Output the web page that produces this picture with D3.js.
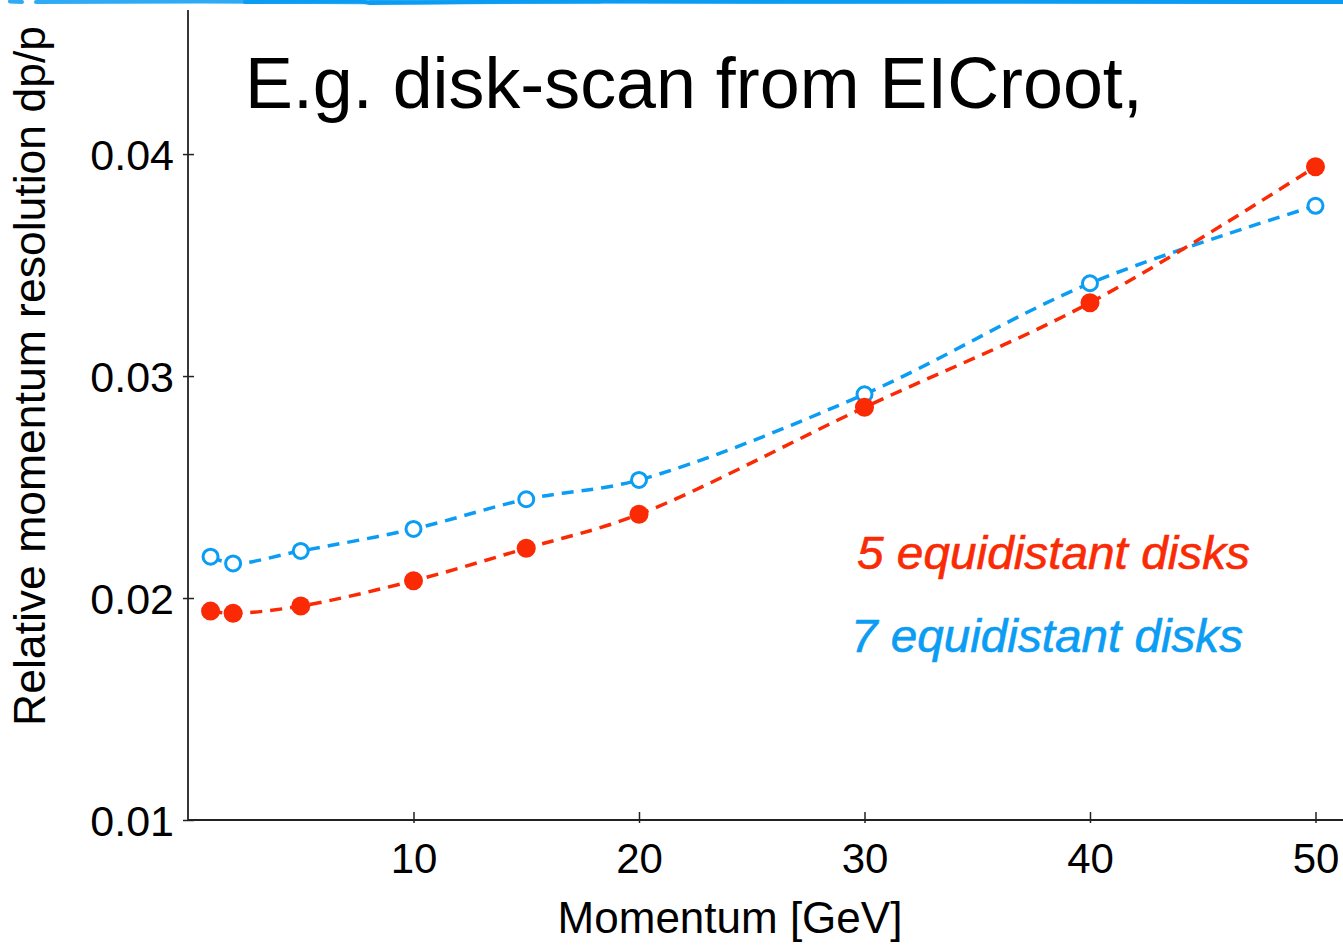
<!DOCTYPE html>
<html>
<head>
<meta charset="utf-8">
<script src="https://cdn.jsdelivr.net/npm/d3@7"></script>
<style>
  html, body { margin: 0; padding: 0; background: #fff; }
  svg { display: block; font-family: "Liberation Sans", Arial, Helvetica, sans-serif; }
</style>
</head>
<body>
<svg id="chart" width="1343" height="945"></svg>
<script>
// ---- data ----
const momentum = [1, 2, 5, 10, 15, 20, 30, 40, 50];
const res5disks = [0.01941, 0.01931, 0.01964, 0.02078, 0.02224, 0.02377, 0.02859, 0.03330, 0.03943];
const res7disks = [0.02186, 0.02156, 0.02212, 0.02311, 0.02445, 0.02532, 0.02918, 0.03418, 0.03767];
const xTicks = [10, 20, 30, 40, 50];
const yTicks = [0.01, 0.02, 0.03, 0.04];
const seriesNames = ["5 equidistant disks", "7 equidistant disks"];
const titleText = "E.g. disk-scan from EICroot,";
const xTitle = "Momentum [GeV]";
const yTitle = "Relative momentum resolution dp/p";

const RED = "#fa2a05";
const BLUE = "#0b9cf4";

const svg = d3.select("#chart");
const x = d3.scaleLinear().domain([0, 51.22]).range([188, 1343]);
const y = d3.scaleLinear().domain([0.01, 0.04649]).range([820, 10]);

// decorative blue band at the very top (cut-off slide decoration)
const deco = svg.append("g").attr("stroke", BLUE).attr("stroke-linecap", "round").attr("fill", "none");
deco.append("path").attr("d", "M10,1.5 L22,2 M36,2 L200,1.5 L420,2.5 L600,1.5").attr("stroke-width", 4).attr("opacity", 0.85);
deco.append("path").attr("d", "M245,2 L360,1 L370,3 L520,1.5 L1343,2").attr("stroke-width", 4);
deco.append("path").attr("d", "M370,1 L760,2.5 L1343,1.5").attr("stroke-width", 2).attr("opacity", 0.8);

// axes
const xAxis = d3.axisBottom(x).tickValues(xTicks).tickFormat(d3.format("d")).tickSize(0).tickPadding(0);
const gx = svg.append("g").attr("transform", "translate(0,820)").call(xAxis);
gx.select(".domain").remove();
gx.selectAll(".tick line").attr("y1", -8).attr("y2", 3).attr("stroke", "#222").attr("stroke-width", 1.5);
gx.selectAll(".tick text").attr("y", 53).attr("dy", null).attr("font-size", 42).attr("fill", "#000")
  .attr("font-family", "Liberation Sans, Arial, sans-serif");

const yAxis = d3.axisLeft(y).tickValues(yTicks).tickFormat(d3.format(".2f")).tickSize(0).tickPadding(0);
const gy = svg.append("g").attr("transform", "translate(188,0)").call(yAxis);
gy.select(".domain").remove();
gy.selectAll(".tick line").attr("x1", -5).attr("x2", 6).attr("stroke", "#222").attr("stroke-width", 1.5);
gy.selectAll(".tick text").attr("x", -14).attr("dy", "0.36em").attr("font-size", 43).attr("fill", "#000")
  .attr("font-family", "Liberation Sans, Arial, sans-serif");

svg.append("line").attr("x1", 188).attr("x2", 188).attr("y1", y.range()[1]).attr("y2", 820)
  .attr("stroke", "#222").attr("stroke-width", 1.8);
svg.append("line").attr("x1", 188).attr("x2", 1343).attr("y1", 820).attr("y2", 820)
  .attr("stroke", "#222").attr("stroke-width", 1.8);

// axis titles
svg.append("text").attr("x", 730).attr("y", 933).attr("text-anchor", "middle")
  .attr("font-size", 44).attr("fill", "#000").text(xTitle);
svg.append("text").attr("transform", "translate(45,376) rotate(-90)").attr("text-anchor", "middle")
  .attr("font-size", 44.5).attr("fill", "#000").text(yTitle);

// title
svg.append("text").attr("x", 245).attr("y", 108).attr("font-size", 71.8).attr("fill", "#000").text(titleText);

// lines
const line = d3.line().x((d, i) => x(momentum[i])).y(d => y(d)).curve(d3.curveCatmullRom.alpha(0.5));
svg.append("path").datum(res7disks).attr("d", line).attr("fill", "none")
  .attr("stroke", BLUE).attr("stroke-width", 3.5).attr("stroke-dasharray", "12,8");
svg.append("path").datum(res5disks).attr("d", line).attr("fill", "none")
  .attr("stroke", RED).attr("stroke-width", 3.5).attr("stroke-dasharray", "12,8");

// markers
svg.append("g").selectAll("circle").data(res7disks).join("circle")
  .attr("cx", (d, i) => x(momentum[i])).attr("cy", d => y(d)).attr("r", 7.5)
  .attr("fill", "#fff").attr("stroke", BLUE).attr("stroke-width", 3);
svg.append("g").selectAll("circle").data(res5disks).join("circle")
  .attr("cx", (d, i) => x(momentum[i])).attr("cy", d => y(d)).attr("r", 9.5)
  .attr("fill", RED);

// legend labels
svg.append("text").attr("x", 857).attr("y", 569).attr("font-size", 46).attr("font-style", "italic")
  .attr("textLength", 393).attr("lengthAdjust", "spacingAndGlyphs")
  .attr("fill", RED).attr("stroke", RED).attr("stroke-width", 0.6).text(seriesNames[0]);
svg.append("text").attr("x", 851).attr("y", 652).attr("font-size", 46).attr("font-style", "italic")
  .attr("textLength", 392).attr("lengthAdjust", "spacingAndGlyphs")
  .attr("fill", BLUE).attr("stroke", BLUE).attr("stroke-width", 0.6).text(seriesNames[1]);
</script>
</body>
</html>
